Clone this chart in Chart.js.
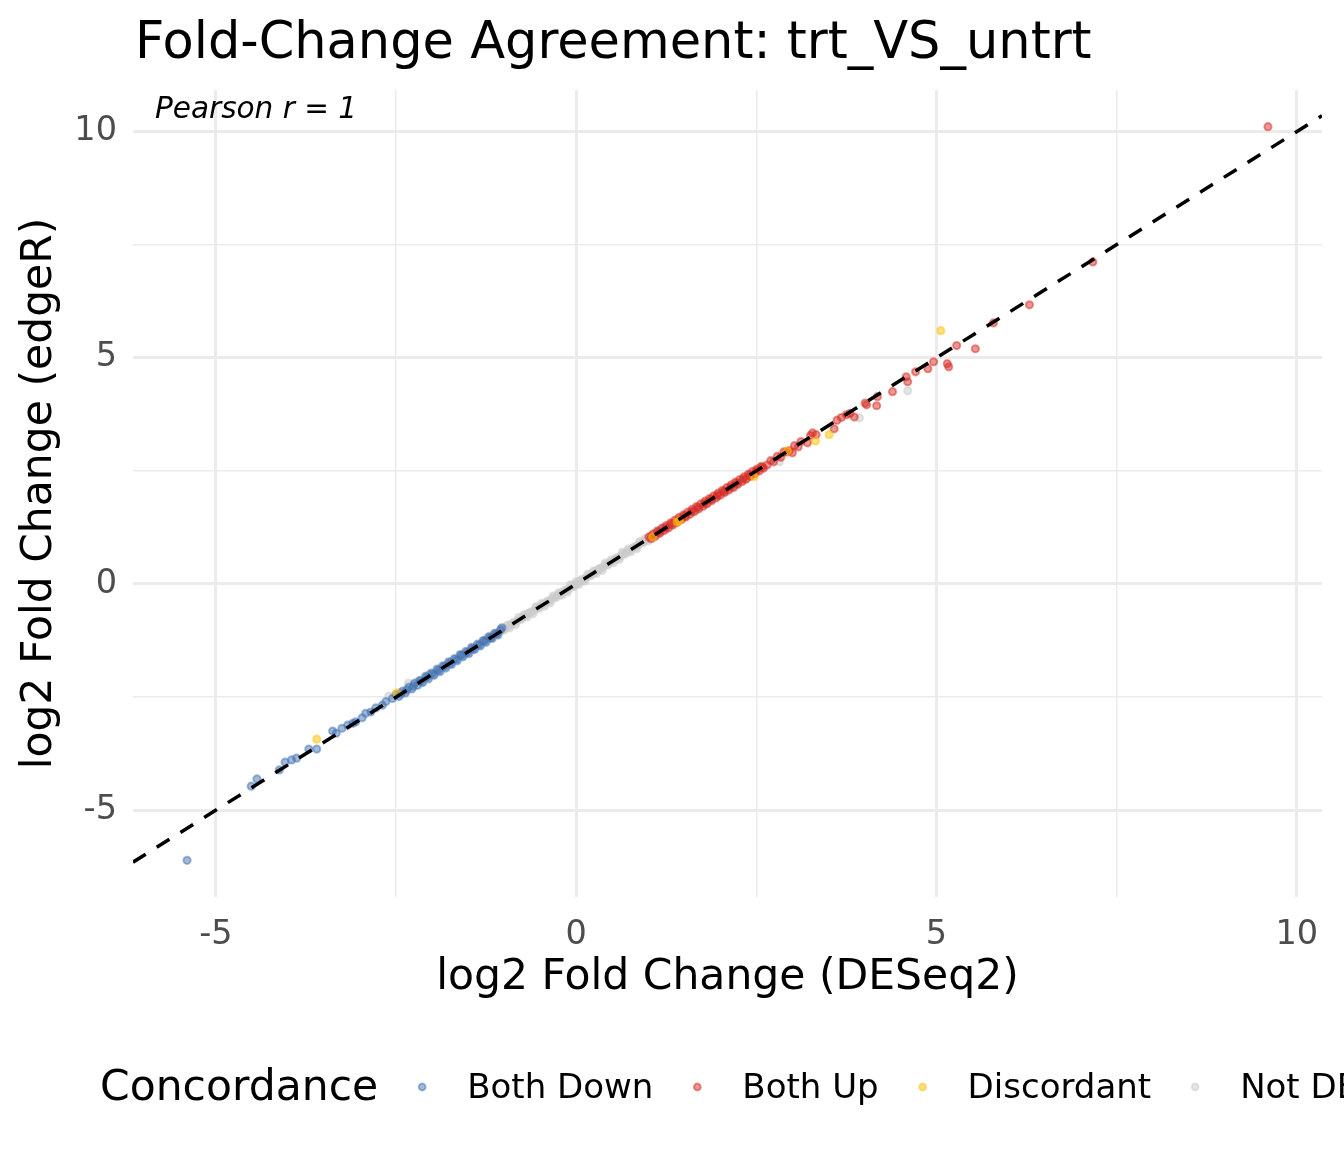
<!DOCTYPE html>
<html>
<head>
<meta charset="utf-8">
<title>Fold-Change Agreement</title>
<script src="https://cdn.jsdelivr.net/npm/chart.js@4.4.1/dist/chart.umd.min.js"></script>
<style>
    html, body { margin: 0; padding: 0; background: #ffffff; }
    canvas { display: block; }
</style>
</head>
<body>
<canvas id="fcChart" width="1344" height="1152"></canvas>
<script>
// ----- DATI -----
const titleText = 'Fold-Change Agreement: trt_VS_untrt';
const xTitle = 'log2 Fold Change (DESeq2)';
const yTitle = 'log2 Fold Change (edgeR)';
const pearsonLabel = 'Pearson r = 1';
const legendTitle = 'Concordance';
const categories = ['Both Down', 'Both Up', 'Discordant', 'Not DE'];

// tick (major con etichetta, minor solo griglia)
const xMajorTicks = [-5, 0, 5, 10];
const xMinorTicks = [-2.5, 2.5, 7.5];
const yMajorTicks = [-5, 0, 5, 10];
const yMinorTicks = [-2.5, 2.5, 7.5];
const xRange = [-6.15, 10.35];
const yRange = [-6.92, 10.92];

// [DESeq2, edgeR]
const bothDown = [
    [-5.40, -6.11], [-4.51, -4.47], [-4.43, -4.31], [-4.12, -4.11], [-4.04, -3.94], [-3.95, -3.89],
    [-3.88, -3.85], [-3.71, -3.65], [-3.60, -3.65], [-3.38, -3.25], [-3.33, -3.30], [-3.25, -3.19],
    [-3.17, -3.12], [-3.10, -3.08], [-3.06, -3.05], [-2.97, -2.96], [-2.92, -2.86], [-2.85, -2.83],
    [-2.78, -2.74], [-2.69, -2.68], [-2.64, -2.60], [-2.55, -2.53], [-2.50, -2.45], [-2.46, -2.49],
    [-2.41, -2.37], [-2.37, -2.41], [-2.32, -2.28], [-2.28, -2.32], [-2.24, -2.19], [-2.20, -2.24],
    [-2.17, -2.13], [-2.13, -2.18], [-2.09, -2.04], [-2.05, -2.10], [-2.01, -1.97], [-1.97, -2.02],
    [-1.93, -1.88], [-1.89, -1.94], [-1.85, -1.81], [-1.81, -1.86], [-1.77, -1.72], [-1.73, -1.78],
    [-1.69, -1.65], [-1.65, -1.70], [-1.61, -1.56], [-1.57, -1.61], [-1.53, -1.49], [-1.49, -1.54],
    [-1.45, -1.40], [-1.41, -1.45], [-1.37, -1.33], [-1.33, -1.37], [-1.29, -1.25], [-1.25, -1.29],
    [-1.21, -1.17], [-1.17, -1.20], [-1.13, -1.09], [-1.09, -1.12], [-1.05, -1.02], [-1.03, -0.97],
    [-2.43, -2.43], [-2.35, -2.34], [-2.26, -2.26], [-2.15, -2.15], [-2.07, -2.06], [-1.99, -1.99],
    [-1.91, -1.91], [-1.83, -1.82], [-1.75, -1.75], [-1.67, -1.67], [-1.59, -1.58], [-1.51, -1.51],
    [-1.43, -1.43], [-1.35, -1.35], [-1.27, -1.26], [-1.19, -1.19], [-1.11, -1.10]
];
const bothUp = [
    [1.01, 1.04], [1.04, 1.00], [1.07, 1.11], [1.10, 1.06], [1.13, 1.17], [1.16, 1.12], [1.19, 1.23],
    [1.22, 1.18], [1.25, 1.29], [1.28, 1.24], [1.31, 1.35], [1.34, 1.30], [1.37, 1.41], [1.40, 1.36],
    [1.43, 1.47], [1.46, 1.42], [1.49, 1.53], [1.52, 1.48], [1.55, 1.59], [1.58, 1.54], [1.61, 1.65],
    [1.64, 1.60], [1.67, 1.71], [1.70, 1.66], [1.73, 1.77], [1.76, 1.72], [1.79, 1.83], [1.82, 1.78],
    [1.85, 1.89], [1.88, 1.84], [1.91, 1.95], [1.94, 1.90], [1.97, 2.01], [2.00, 1.96], [2.03, 2.07],
    [2.06, 2.02], [2.09, 2.13], [2.12, 2.08], [2.15, 2.19], [2.18, 2.14], [2.21, 2.25], [2.24, 2.20],
    [2.27, 2.31], [2.30, 2.26], [2.33, 2.37], [2.36, 2.32], [2.39, 2.43], [2.42, 2.38], [2.45, 2.49],
    [2.48, 2.44], [2.51, 2.54], [2.54, 2.50], [2.57, 2.60], [2.60, 2.56],
    [1.05, 1.05], [1.15, 1.15], [1.24, 1.24], [1.33, 1.33], [1.42, 1.42], [1.51, 1.51], [1.60, 1.60],
    [1.69, 1.69], [1.78, 1.78], [1.87, 1.87], [1.96, 1.96], [2.05, 2.05], [2.14, 2.14], [2.23, 2.23],
    [2.32, 2.32], [2.41, 2.41], [2.50, 2.50], [2.58, 2.58],
    [2.65, 2.63], [2.70, 2.73], [2.74, 2.70], [2.79, 2.82], [2.84, 2.80], [2.88, 2.92], [2.92, 2.92],
    [2.96, 2.95], [3.00, 2.90], [3.03, 3.06], [3.08, 3.03], [3.12, 3.15], [3.21, 3.12], [3.25, 3.28],
    [3.28, 3.34], [3.33, 3.30], [3.58, 3.43], [3.62, 3.62], [3.68, 3.68], [3.75, 3.74], [3.80, 3.77],
    [3.86, 3.69], [4.01, 4.00], [4.03, 3.96], [4.17, 3.94], [4.18, 4.14], [4.39, 4.25], [4.58, 4.58],
    [4.60, 4.47], [4.71, 4.69], [4.88, 4.76], [4.96, 4.91], [5.15, 4.87], [5.17, 4.80], [5.28, 5.27],
    [5.54, 5.20], [5.79, 5.77], [6.29, 6.17], [7.17, 7.12], [9.60, 10.11]
];
const discordant = [
    [-3.60, -3.43], [-2.49, -2.41], [1.06, 1.04], [1.40, 1.37], [1.43, 1.40], [2.47, 2.37],
    [2.93, 2.94], [3.32, 3.16], [3.51, 3.30], [5.06, 5.60]
];
const notDE = [
    [-2.60, -2.48], [-2.33, -2.19], [-2.45, -2.40], [-2.20, -2.17], [-2.05, -2.00], [-1.90, -1.88],
    [-1.75, -1.72], [-1.60, -1.57], [-1.45, -1.43], [-1.30, -1.27], [-1.24, -1.19],
    [-1.20, -1.15], [-1.16, -1.21], [-1.12, -1.10], [-1.08, -1.14], [-1.04, -0.98], [-1.00, -1.02],
    [-0.96, -0.91], [-0.92, -0.97], [-0.88, -0.86], [-0.84, -0.90], [-0.80, -0.74], [-0.76, -0.78],
    [-0.72, -0.67], [-0.68, -0.73], [-0.64, -0.62], [-0.60, -0.66], [-0.56, -0.50], [-0.52, -0.54],
    [-0.48, -0.43], [-0.44, -0.49], [-0.40, -0.38], [-0.36, -0.42], [-0.32, -0.26], [-0.28, -0.30],
    [-0.24, -0.19], [-0.20, -0.25], [-0.16, -0.14], [-0.12, -0.18], [-0.08, -0.02], [-0.04, -0.06],
    [0.00, 0.05], [0.04, -0.01], [0.08, 0.10], [0.12, 0.06], [0.16, 0.22], [0.20, 0.18],
    [0.24, 0.29], [0.28, 0.23], [0.32, 0.34], [0.36, 0.30], [0.40, 0.46], [0.44, 0.42],
    [0.48, 0.53], [0.52, 0.47], [0.56, 0.58], [0.60, 0.54], [0.64, 0.70], [0.68, 0.66],
    [0.72, 0.77], [0.76, 0.71], [0.80, 0.82], [0.84, 0.78], [0.88, 0.94], [0.92, 0.90],
    [0.96, 1.01], [1.00, 0.95], [1.04, 1.06], [1.08, 1.02], [1.12, 1.18], [1.16, 1.14], [1.20, 1.25],
    [-1.18, -1.18], [-1.14, -1.13], [-1.10, -1.10], [-1.06, -1.05], [-1.02, -1.02], [-0.98, -0.98],
    [-0.94, -0.93], [-0.90, -0.90], [-0.86, -0.85], [-0.82, -0.82], [-0.78, -0.78], [-0.74, -0.73],
    [-0.70, -0.70], [-0.66, -0.65], [-0.62, -0.62], [-0.58, -0.58], [-0.54, -0.53], [-0.50, -0.50],
    [-0.46, -0.45], [-0.42, -0.42], [-0.38, -0.38], [-0.34, -0.33], [-0.30, -0.30], [-0.26, -0.25],
    [-0.22, -0.22], [-0.18, -0.18], [-0.14, -0.13], [-0.10, -0.10], [-0.06, -0.05], [-0.02, -0.02],
    [0.02, 0.02], [0.06, 0.07], [0.10, 0.10], [0.14, 0.14], [0.18, 0.19], [0.22, 0.22],
    [0.26, 0.26], [0.30, 0.31], [0.34, 0.34], [0.38, 0.38], [0.42, 0.43], [0.46, 0.46],
    [0.50, 0.50], [0.54, 0.55], [0.58, 0.58], [0.62, 0.62], [0.66, 0.67], [0.70, 0.70],
    [0.74, 0.74], [0.78, 0.79], [0.82, 0.82], [0.86, 0.86], [0.90, 0.91], [0.94, 0.94],
    [0.98, 0.98], [1.02, 1.03], [1.06, 1.06], [1.10, 1.10], [1.14, 1.15], [1.18, 1.18],
    [1.25, 1.22], [1.38, 1.36], [1.52, 1.49], [1.65, 1.62], [1.80, 1.75], [1.95, 1.92], [2.08, 2.06],
    [2.19, 2.12], [2.35, 2.30], [2.82, 2.70], [3.93, 3.67], [4.60, 4.27]
];
const identityLine = [[xRange[0], xRange[0]], [xRange[1], xRange[1]]];

const seriesColors = ['#4575B4', '#D73027', '#FFC107', '#CCCCCC'];

// ----- FUNZIONI -----
function toPoints(pairs) {
    return pairs.map(p => ({ x: p[0], y: p[1] }));
}

function withAlpha(hex, a) {
    const n = parseInt(hex.slice(1), 16);
    return `rgba(${(n >> 16) & 255}, ${(n >> 8) & 255}, ${n & 255}, ${a})`;
}

function scatterSet(label, pairs, color, order) {
    return {
        type: 'scatter',
        label: label,
        data: toPoints(pairs),
        backgroundColor: withAlpha(color, 0.5),
        borderColor: withAlpha(color, 0.5),
        borderWidth: 2,
        pointRadius: 3.6,
        order: order
    };
}

const FONT = "'DejaVu Sans', sans-serif";

// titolo, annotazione e legenda disegnati a mano (stile ggplot)
const decorPlugin = {
    id: 'decor',
    afterDraw(chart) {
        const ctx = chart.ctx;
        const area = chart.chartArea;
        ctx.save();
        ctx.fillStyle = '#000000';
        ctx.textBaseline = 'alphabetic';
        ctx.textAlign = 'left';
        ctx.font = `51px ${FONT}`;
        ctx.fillText(titleText, 135, 58);

        ctx.font = `italic 29.5px ${FONT}`;
        ctx.fillText(pearsonLabel, area.left + 22, 118);

        // legenda in basso
        let x = 100;
        const base = 1100;
        ctx.font = `42.5px ${FONT}`;
        ctx.fillText(legendTitle, x, base);
        x += ctx.measureText(legendTitle).width + 44;
        ctx.font = `34px ${FONT}`;
        categories.forEach((name, i) => {
            const c = withAlpha(seriesColors[i], 0.5);
            ctx.beginPath();
            ctx.arc(x, 1087, 3.4, 0, Math.PI * 2);
            ctx.fillStyle = c;
            ctx.fill();
            ctx.lineWidth = 2;
            ctx.strokeStyle = c;
            ctx.stroke();
            ctx.fillStyle = '#000000';
            x += 45;
            ctx.fillText(name, x, base - 2);
            x += ctx.measureText(name).width + 44;
        });
        ctx.restore();
    }
};

function gridWidth(c) {
    if (!c.tick) return 0;
    return c.tick.value % 5 === 0 ? 3 : 1.5;
}

function tickLabel(majors) {
    return function (value) {
        return majors.includes(value) ? String(value) : '';
    };
}

const ctx = document.getElementById('fcChart').getContext('2d');
new Chart(ctx, {
    data: {
        datasets: [
            {
                type: 'line',
                label: 'y = x',
                data: toPoints(identityLine),
                borderColor: '#000000',
                borderWidth: 3.5,
                borderDash: [15, 13],
                pointRadius: 0,
                fill: false,
                order: 0
            },
            scatterSet(categories[2], discordant, seriesColors[2], 1),
            scatterSet(categories[1], bothUp, seriesColors[1], 2),
            scatterSet(categories[0], bothDown, seriesColors[0], 3),
            scatterSet(categories[3], notDE, seriesColors[3], 4)
        ]
    },
    options: {
        responsive: false,
        animation: false,
        layout: { padding: { top: 90, right: 22, left: 0, bottom: 0 } },
        plugins: {
            legend: { display: false },
            tooltip: { enabled: false },
            title: { display: false }
        },
        scales: {
            x: {
                type: 'linear',
                min: xRange[0],
                max: xRange[1],
                afterBuildTicks: s => {
                    s.ticks = xMajorTicks.concat(xMinorTicks).sort((a, b) => a - b).map(v => ({ value: v }));
                },
                afterFit: s => { s.height = 255; },
                grid: { color: '#EBEBEB', lineWidth: gridWidth, drawTicks: false },
                border: { display: false },
                ticks: {
                    autoSkip: false,
                    maxRotation: 0,
                    padding: 18,
                    color: '#4D4D4D',
                    font: { family: FONT, size: 33.5 },
                    callback: tickLabel(xMajorTicks)
                },
                title: {
                    display: true,
                    text: xTitle,
                    color: '#000000',
                    font: { family: FONT, size: 42.5 },
                    padding: { top: 0, bottom: 149 }
                }
            },
            y: {
                type: 'linear',
                min: yRange[0],
                max: yRange[1],
                afterBuildTicks: s => {
                    s.ticks = yMajorTicks.concat(yMinorTicks).sort((a, b) => a - b).map(v => ({ value: v }));
                },
                afterFit: s => { s.width = 133; },
                grid: { color: '#EBEBEB', lineWidth: gridWidth, drawTicks: false },
                border: { display: false },
                ticks: {
                    autoSkip: false,
                    padding: 16,
                    color: '#4D4D4D',
                    font: { family: FONT, size: 33.5 },
                    callback: tickLabel(yMajorTicks)
                },
                title: {
                    display: true,
                    text: yTitle,
                    color: '#000000',
                    font: { family: FONT, size: 42.5 },
                    padding: { top: 14, bottom: 0 }
                }
            }
        }
    },
    plugins: [decorPlugin]
});
</script>
</body>
</html>
